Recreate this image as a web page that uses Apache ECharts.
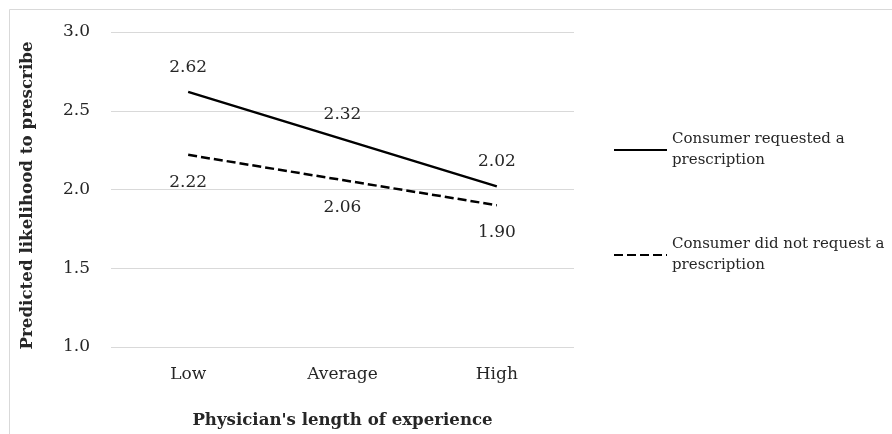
<!DOCTYPE html>
<html>
<head>
<meta charset="utf-8">
<script src="https://cdn.jsdelivr.net/npm/echarts@6/dist/echarts.min.js"></script>
<style>
  html, body { margin: 0; padding: 0; background: #fff; }
  #chart { width: 892px; height: 434px; }
</style>
</head>
<body>
<div id="chart"></div>
<script>
// Predicted likelihood to prescribe by physician experience level
const categories = ['Low', 'Average', 'High'];
const requested = [2.62, 2.32, 2.02];
const notRequested = [2.22, 2.06, 1.90];
const seriesNames = ['Consumer requested a\nprescription', 'Consumer did not request a\nprescription'];
const yTicks = { min: 1.0, max: 3.0, step: 0.5 };

const FONT = '"DejaVu Serif", serif';
const TEXT = '#262626';

const chart = echarts.init(document.getElementById('chart'), null, { renderer: 'canvas' });

chart.setOption({
  animation: false,
  backgroundColor: '#ffffff',
  textStyle: { fontFamily: FONT },
  graphic: [{
    type: 'rect',
    shape: { x: 9.5, y: 9.5, width: 900, height: 450 },
    style: { fill: 'none', stroke: '#d9d9d9', lineWidth: 1 },
    silent: true
  }],
  grid: { left: 111, right: 318, top: 32, bottom: 87 },
  legend: {
    orient: 'vertical',
    left: 613,
    top: 118.5,
    padding: 0,
    itemWidth: 53,
    itemHeight: 3,
    itemGap: 42,
    itemStyle: { opacity: 0 },
    textStyle: {
      fontFamily: FONT,
      fontSize: 15,
      color: TEXT,
      lineHeight: 21,
      padding: [21, 0, 0, 0]
    },
    data: seriesNames
  },
  xAxis: {
    type: 'category',
    data: categories,
    boundaryGap: true,
    axisLine: { show: false },
    axisTick: { show: false },
    axisLabel: { fontFamily: FONT, fontSize: 17, color: TEXT, margin: 19 },
    name: "Physician's length of experience",
    nameLocation: 'middle',
    nameGap: 65,
    nameTextStyle: { fontFamily: FONT, fontSize: 16.6, fontWeight: 'bold', color: TEXT }
  },
  yAxis: {
    type: 'value',
    min: yTicks.min,
    max: yTicks.max,
    interval: yTicks.step,
    axisLine: { show: false },
    axisTick: { show: false },
    axisLabel: {
      fontFamily: FONT, fontSize: 17, color: TEXT, margin: 21,
      formatter: v => v.toFixed(1)
    },
    splitLine: { lineStyle: { color: '#d9d9d9', width: 1 } },
    name: 'Predicted likelihood to prescribe',
    nameLocation: 'middle',
    nameGap: 75,
    nameTextStyle: {
      fontFamily: FONT, fontSize: 16.7, fontWeight: 'bold', color: TEXT,
      padding: [0, 12, 0, 0]
    }
  },
  series: [
    {
      name: seriesNames[0],
      type: 'line',
      data: requested,
      symbol: 'circle',
      symbolSize: 0,
      lineStyle: { color: '#000000', width: 2.5, type: 'solid' },
      itemStyle: { color: '#000000' },
      label: {
        show: true, position: 'top', distance: 16,
        fontFamily: FONT, fontSize: 17, color: TEXT,
        formatter: p => p.value.toFixed(2)
      }
    },
    {
      name: seriesNames[1],
      type: 'line',
      data: notRequested,
      symbol: 'circle',
      symbolSize: 0,
      lineStyle: { color: '#000000', width: 2.5, type: [9, 4] },
      itemStyle: { color: '#000000' },
      label: {
        show: true, position: 'bottom', distance: 19,
        fontFamily: FONT, fontSize: 17, color: TEXT,
        formatter: p => p.value.toFixed(2)
      }
    }
  ]
});
</script>
</body>
</html>
